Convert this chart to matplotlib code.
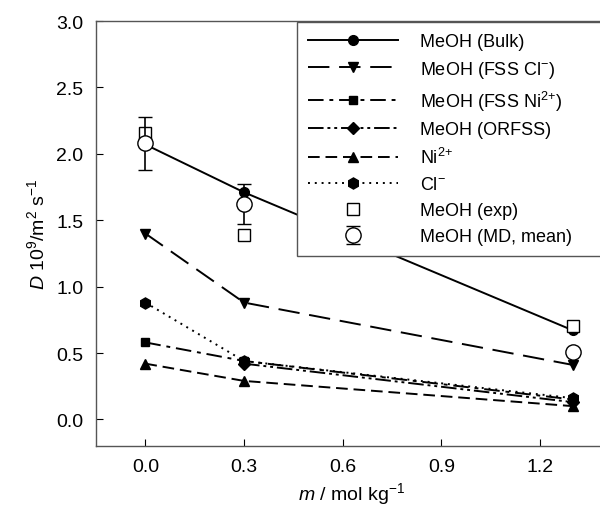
import matplotlib
matplotlib.use("Agg")
import matplotlib.pyplot as plt

plt.rcParams.update({
    "font.family": ["Liberation Sans", "DejaVu Sans"],
    "font.size": 13,
    "mathtext.fontset": "custom",
    "mathtext.rm": "Liberation Sans",
    "mathtext.it": "Liberation Sans:italic",
})

# ── data ──────────────────────────────────────────────────────────────────────
m_all = [0.0, 0.3, 1.3]
m_orfss = [0.3, 1.3]

bulk = [2.07, 1.71, 0.67]
fss_cl = [1.40, 0.88, 0.41]
fss_ni = [0.58, 0.44, 0.15]
orfss = [0.42, 0.13]
ni_ion = [0.42, 0.29, 0.10]
cl_ion = [0.88, 0.44, 0.16]

exp_vals = [2.16, 1.39, 0.70]
md_mean = [2.08, 1.62, 0.51]
md_err = [0.20, 0.15, 0.0]

SUP_MINUS = "$^{-}$"
SUP_2PLUS = "$^{2}$$^{+}$"

fig = plt.figure(figsize=(6.0, 5.06), dpi=100)
ax = fig.add_axes([96 / 600, 1 - 447 / 506, 510 / 600, 425 / 506])

ms = 7
ax.plot(m_all, bulk, "-", marker="o", color="black", lw=1.4, ms=ms,
        label="MeOH (Bulk)", zorder=3)
ax.plot(m_all, fss_cl, color="black", lw=1.4, ls=(0, (11, 5)), marker="v",
        ms=ms, label="MeOH (FSS Cl" + SUP_MINUS + ")", zorder=3)
ax.plot(m_all, fss_ni, color="black", lw=1.4, ls=(0, (8, 3, 2, 3)), marker="s",
        ms=ms - 1, label="MeOH (FSS Ni" + SUP_2PLUS + ")", zorder=3)
ax.plot(m_orfss, orfss, color="black", lw=1.4, ls=(0, (8, 2, 1.5, 2, 1.5, 2)),
        marker="D", ms=ms - 1, label="MeOH (ORFSS)", zorder=3)
ax.plot(m_all, ni_ion, color="black", lw=1.4, ls=(0, (6, 3)), marker="^",
        ms=ms, label="Ni" + SUP_2PLUS, zorder=3)
ax.plot(m_all, cl_ion, color="black", lw=1.4, ls=(0, (1, 2.5)), marker="h",
        ms=ms + 1, label="Cl" + SUP_MINUS, zorder=3)
ax.plot(m_all, exp_vals, "s", mfc="white", mec="black", mew=1.0, ms=9,
        label="MeOH (exp)", zorder=4)
ax.errorbar(m_all, md_mean, yerr=md_err, fmt="o", mfc="white", mec="black",
            mew=1.0, ms=11, ecolor="black", elinewidth=1.2, capsize=5,
            label="MeOH (MD, mean)", zorder=5)

ax.set_xlim(-0.15, 1.4)
ax.set_ylim(-0.2, 3.0)
ax.set_xticks([0.0, 0.3, 0.6, 0.9, 1.2])
ax.set_yticks([0.0, 0.5, 1.0, 1.5, 2.0, 2.5, 3.0])
ax.tick_params(direction="in", length=5, labelsize=14, pad=9)
for s in ax.spines.values():
    s.set_color("#555555")
    s.set_linewidth(1.0)

ax.set_xlabel("$\\mathit{m}$ / mol kg$^{-1}$", fontsize=14, labelpad=3)
ax.set_ylabel("$\\mathit{D}$ 10$^{9}$/m$^{2}$ s$^{-1}$", fontsize=14,
              labelpad=6)

# legend box runs past the right edge of the figure, as in the original
leg = ax.legend(loc="upper left",
                bbox_to_anchor=(297 / 600, 1 - 23 / 506, 330 / 600, 0.0),
                bbox_transform=fig.transFigure, mode="expand",
                fontsize=13, handlelength=5.0,
                handletextpad=1.2, labelspacing=0.49, borderpad=0.6,
                borderaxespad=0, fancybox=False, framealpha=1.0,
                edgecolor="#555555")
leg.get_frame().set_linewidth(1.0)

fig.savefig("out.png", dpi=100)
